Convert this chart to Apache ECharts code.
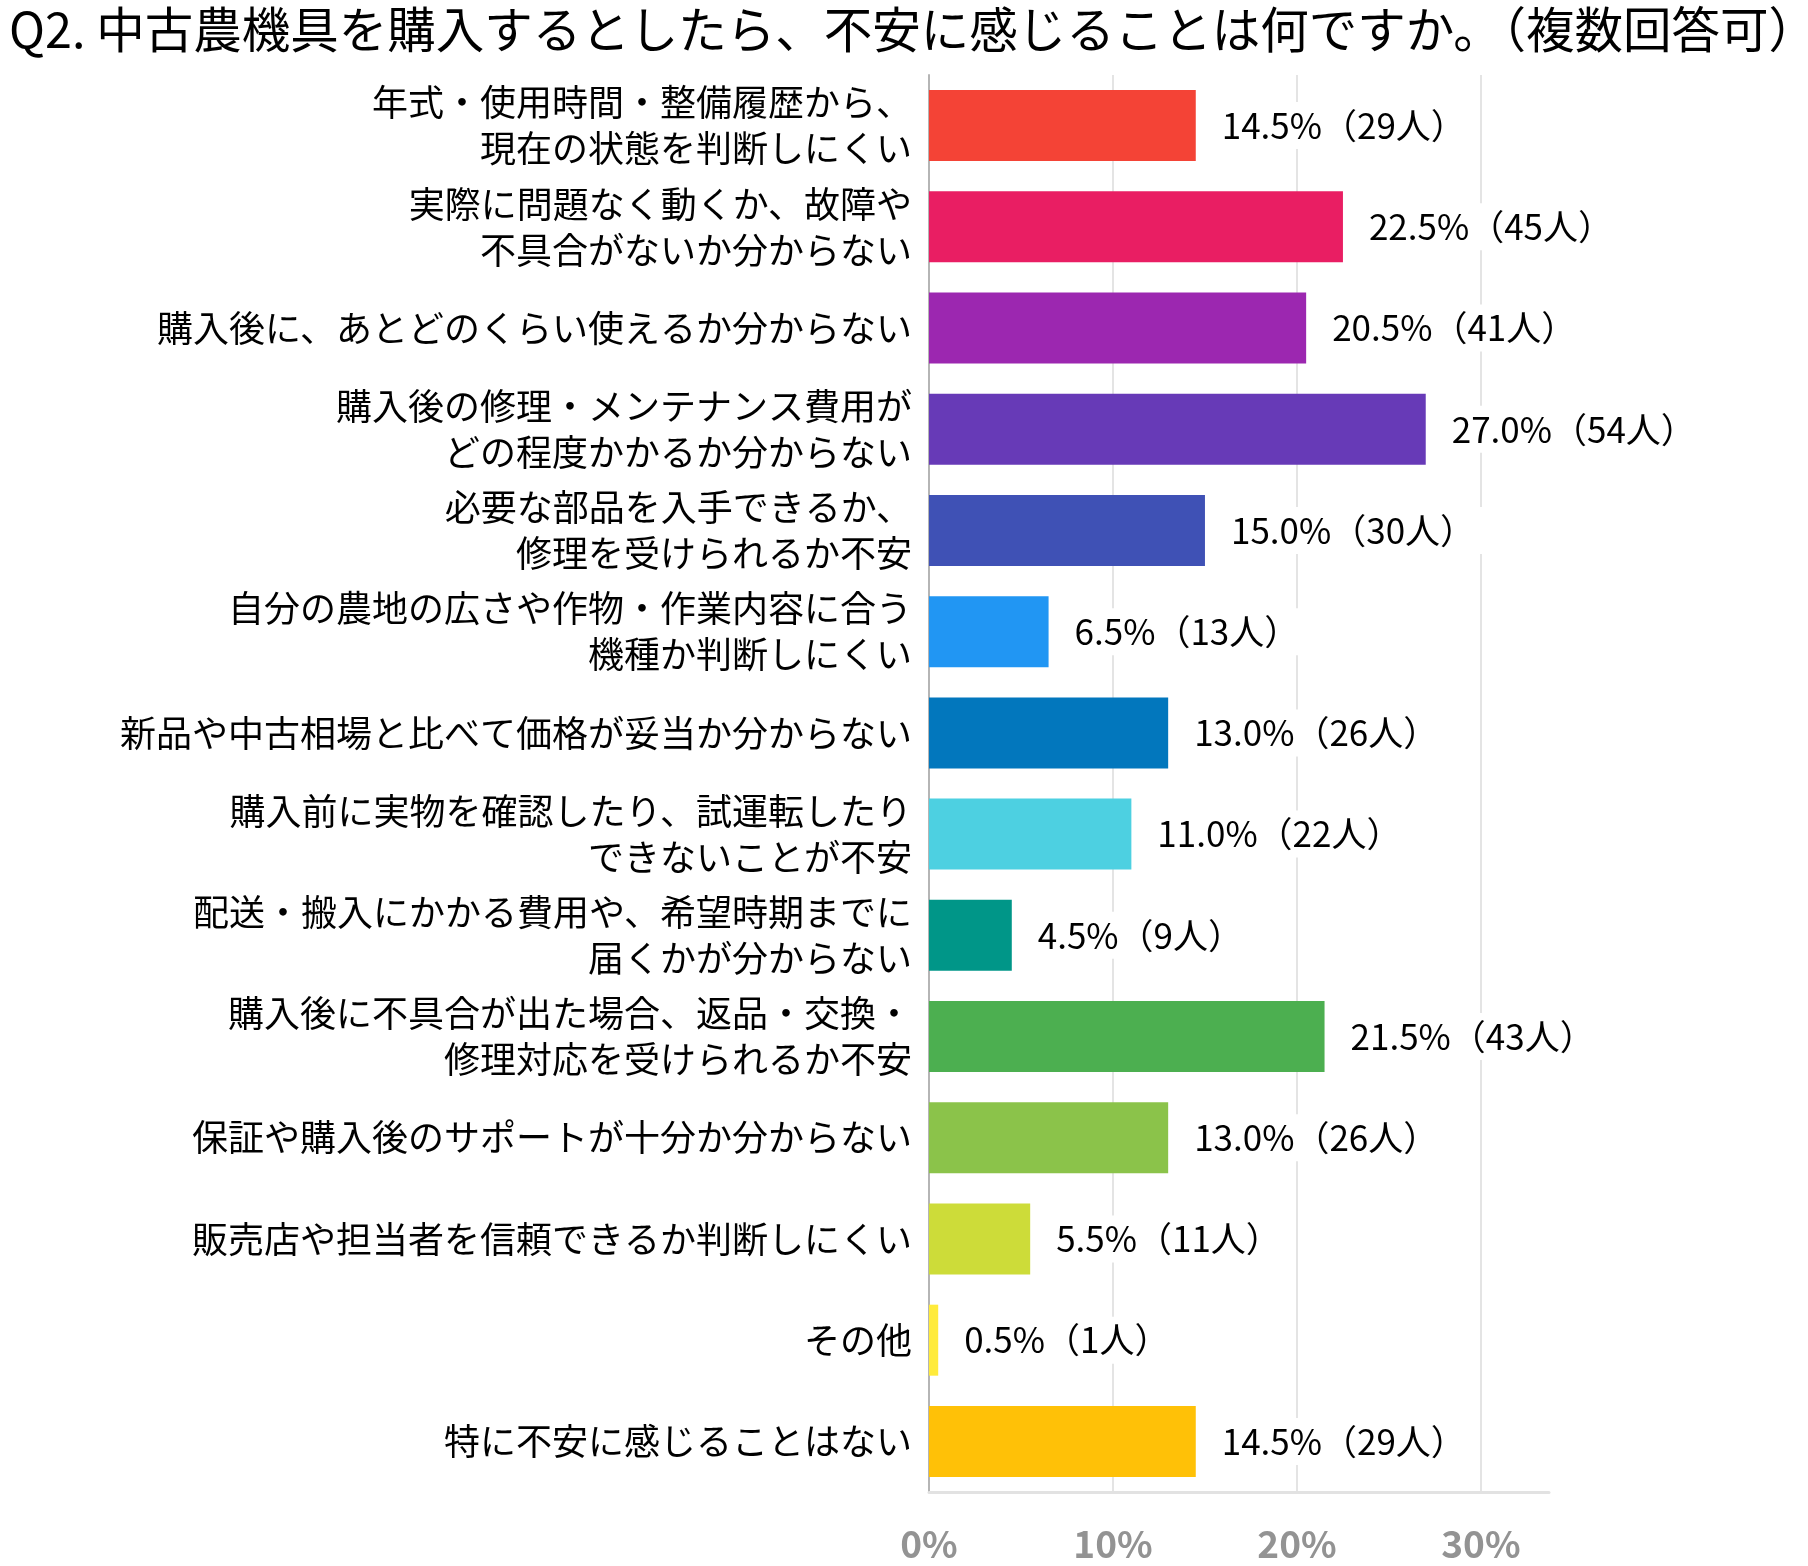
<!DOCTYPE html>
<html>
<head>
  <meta charset="utf-8">
  <title>中古農機具 不安</title>
  <script src="https://cdn.jsdelivr.net/npm/echarts@6/dist/echarts.min.js"></script>
  <style>
    html, body { margin: 0; padding: 0; background: #fff; }
    #chart { width: 1808px; height: 1566px; }
  </style>
</head>
<body>
  <div id="chart"></div>
  <script>
    // 回答項目（上から順）
    var categories = [
      '年式・使用時間・整備履歴から、\n現在の状態を判断しにくい',
      '実際に問題なく動くか、故障や\n不具合がないか分からない',
      '購入後に、あとどのくらい使えるか分からない',
      '購入後の修理・メンテナンス費用が\nどの程度かかるか分からない',
      '必要な部品を入手できるか、\n修理を受けられるか不安',
      '自分の農地の広さや作物・作業内容に合う\n機種か判断しにくい',
      '新品や中古相場と比べて価格が妥当か分からない',
      '購入前に実物を確認したり、試運転したり\nできないことが不安',
      '配送・搬入にかかる費用や、希望時期までに\n届くかが分からない',
      '購入後に不具合が出た場合、返品・交換・\n修理対応を受けられるか不安',
      '保証や購入後のサポートが十分か分からない',
      '販売店や担当者を信頼できるか判断しにくい',
      'その他',
      '特に不安に感じることはない'
    ];
    // 割合（%）
    var percents = [14.5, 22.5, 20.5, 27.0, 15.0, 6.5, 13.0, 11.0, 4.5, 21.5, 13.0, 5.5, 0.5, 14.5];
    // 人数
    var counts = [29, 45, 41, 54, 30, 13, 26, 22, 9, 43, 26, 11, 1, 29];
    var barColors = [
      '#F44336', '#E91E63', '#9C27B0', '#673AB7', '#3F51B5', '#2196F3', '#0277BD',
      '#4DD0E1', '#009688', '#4CAF50', '#8BC34A', '#CDDC39', '#FFEB3B', '#FFC107'
    ];
    var xTicks = [0, 10, 20, 30];

    var font = '"Noto Sans CJK JP", "Noto Sans", sans-serif';
    var chart = echarts.init(document.getElementById('chart'));

    var barData = [];
    for (var i = 0; i < percents.length; i++) {
      barData.push({ value: percents[i], itemStyle: { color: barColors[i] } });
    }

    var option = {
      backgroundColor: '#fff',
      animation: false,
      title: {
        text: 'Q2. 中古農機具を購入するとしたら、不安に感じることは何ですか。（複数回答可）',
        left: 4,
        top: 0,
        textStyle: { fontFamily: font, fontSize: 48.5, fontWeight: 'normal', color: '#000' }
      },
      grid: { left: 929, right: 259, top: 75, bottom: 74 },
      xAxis: {
        type: 'value',
        min: 0,
        max: 33.7,
        interval: 10,
        axisLine: { show: true, lineStyle: { color: '#e2e2e2', width: 3 } },
        axisTick: { show: false },
        splitLine: { show: true, showMaxLine: false, lineStyle: { color: '#e4e4e4', width: 2 } },
        axisLabel: {
          showMaxLabel: false,
          margin: 33,
          fontFamily: font,
          fontSize: 37,
          color: '#939393',
          fontWeight: 'bold',
          formatter: function (v) {
            return xTicks.indexOf(v) >= 0 ? v + '%' : '';
          }
        }
      },
      yAxis: {
        type: 'category',
        inverse: true,
        data: categories,
        axisLine: { show: true, lineStyle: { color: '#b5b5b5', width: 2 } },
        axisTick: { show: false },
        axisLabel: {
          margin: 17,
          fontFamily: font,
          fontSize: 36,
          lineHeight: 46,
          color: '#000',
          align: 'right'
        }
      },
      series: [{
        type: 'bar',
        data: barData,
        barWidth: 71,
        z: 3,
        label: {
          show: true,
          position: 'right',
          distance: 18,
          backgroundColor: '#fff',
          padding: [6, 8],
          fontFamily: font,
          fontSize: 35,
          color: '#000',
          formatter: function (p) {
            return percents[p.dataIndex].toFixed(1) + '%（' + counts[p.dataIndex] + '人）';
          }
        }
      }]
    };

    chart.setOption(option);
  </script>
</body>
</html>
